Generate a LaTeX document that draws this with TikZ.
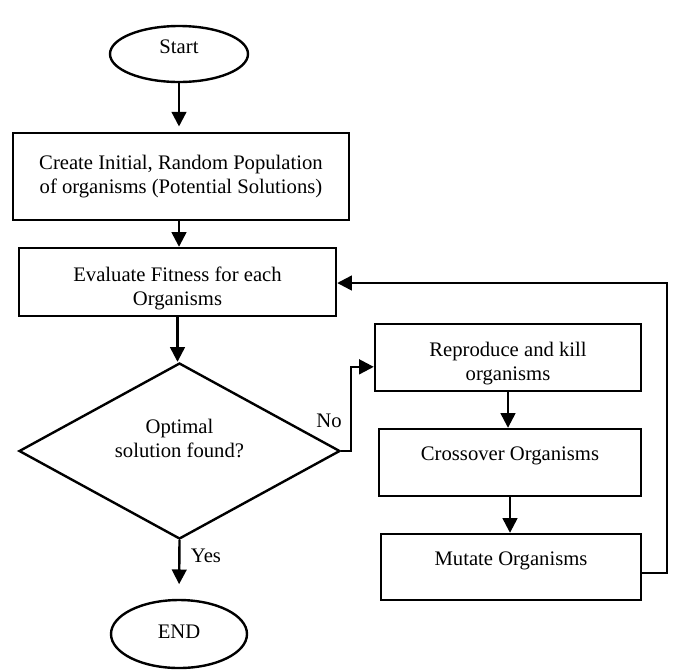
\documentclass[tikz,border=0pt]{standalone}
\usepackage{fontspec}
\setmainfont{Liberation Serif}
\usepackage{tikz}
\usetikzlibrary{arrows.meta, shapes.geometric}

\begin{document}
\begin{tikzpicture}[x=0.75pt, y=-0.75pt, line width=1.8pt,
	every node/.style={font=\fontsize{15.5}{18}\selectfont},
	box/.style={draw, rectangle, align=center, inner sep=2pt},
	oval/.style={draw, ellipse, inner sep=2pt},
	arr/.style={-{Triangle[length=11pt,width=11pt]}}]

	\useasboundingbox (0,0) rectangle (673,669);

	\node[oval, minimum width=103.5pt, minimum height=42pt, text height=8pt, text depth=9.5pt] (start) at (179,54) {Start};
	\node[box, minimum width=252pt, minimum height=65.25pt] (init) at (181,176.5) {Create Initial, Random Population\\of organisms (Potential Solutions)};
	\node[box, minimum width=237.75pt, minimum height=51pt, text height=35pt, text depth=0pt] (eval) at (177.5,282) {Evaluate Fitness for each\\Organisms};
	\node[draw, diamond, aspect=1.82, align=center, inner sep=0pt, minimum width=240.75pt, minimum height=132pt, text height=28pt, text depth=19pt] (test) at (179.5,451) {Optimal\\solution found?};
	\node[oval, minimum width=102pt, minimum height=51pt, text height=10.3pt, text depth=4.3pt] (stop) at (179,634) {END};

	\def \r {508}
	\node[box, minimum width=199.5pt, minimum height=50.25pt, text height=34pt, text depth=0pt] (repro) at (\r,357.5) {Reproduce and kill\\organisms};
	\node[box, minimum width=196.5pt, minimum height=50.25pt, text height=8pt, text depth=11.75pt] (cross) at (\r+2,462.5) {Crossover Organisms};
	\node[box, minimum width=195pt, minimum height=49.5pt, text height=8pt, text depth=11pt] (mutate) at (\r+3,567) {Mutate Organisms};

	\node (no) at (329,421) {No};
	\node (yes) at (206,556) {Yes};
	\coordinate (back) at (667,283);

	\draw[arr, shorten >=4pt] (start) -- (start |- init.north);
	\draw[arr] (init.south -| start) -- (eval.north -| start);
	\draw[arr] (eval.south) -- (eval.south |- test.north);
	\draw[arr, shorten >=11pt] (test.south) -- (stop.north);
	\draw[arr] (test.east) -- ++(10,0) |- ([yshift=-7pt]repro.west);
	\draw[arr] (repro.south) -- (repro.south |- cross.north);
	\draw[arr] (cross.south) -- (cross.south |- mutate.north);
	\draw[arr] ([yshift=-4.5pt]mutate.east) -| (back) -- (eval.east |- back);

\end{tikzpicture}
\end{document}
